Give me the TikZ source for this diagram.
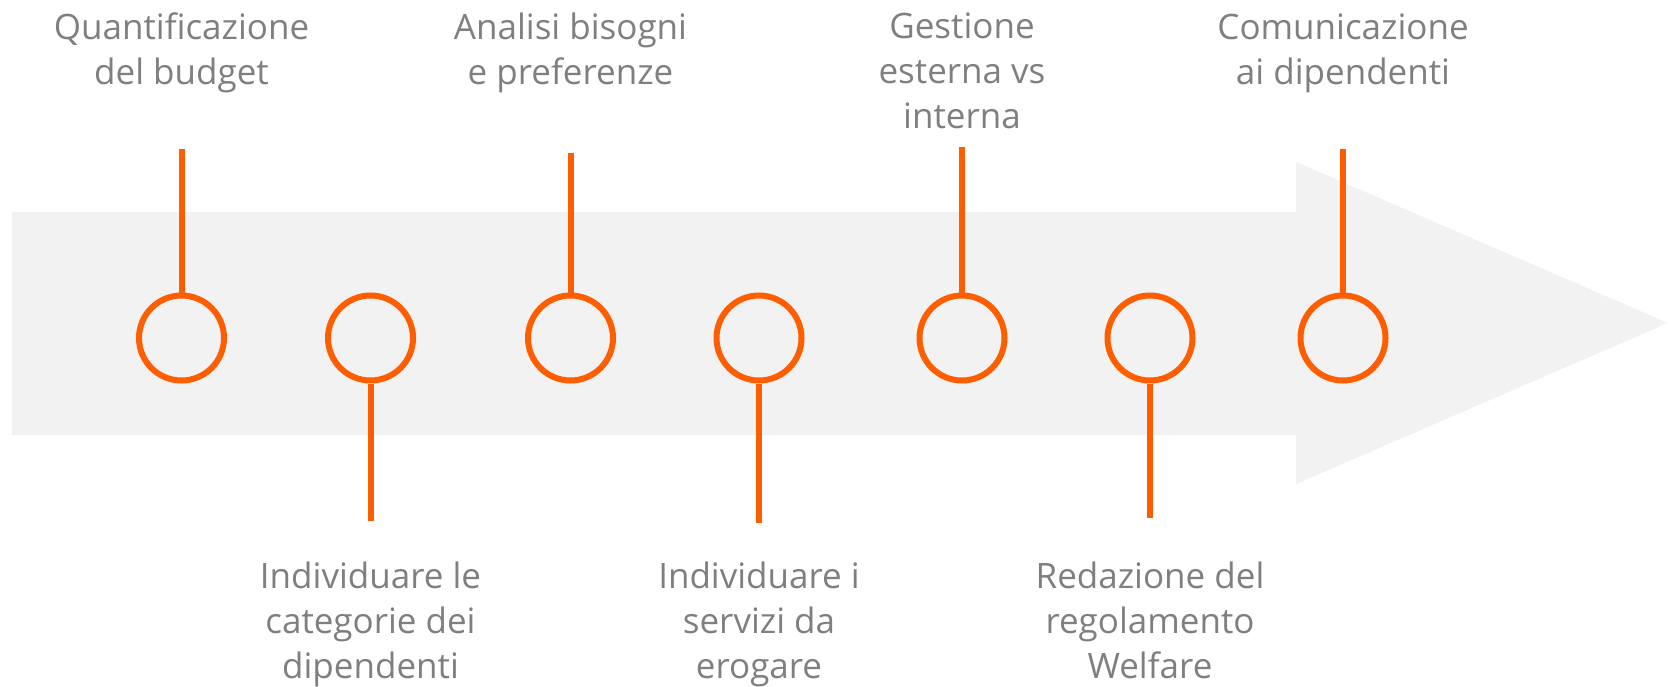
\documentclass[tikz,border=0pt]{standalone}
\usepackage{fontspec}
\setmainfont{Open Sans}
\usepackage{xcolor}
\definecolor{tlorange}{HTML}{FF5E00}
\definecolor{tlgray}{HTML}{7F7F7F}
\definecolor{tlarrow}{HTML}{F2F2F2}
\tikzset{
  step circ/.style={circle, draw=tlorange, line width=6pt, minimum size=85pt, inner sep=0pt},
  stick/.style={draw=tlorange, line width=6pt},
  label txt/.style={text=tlgray, align=center, anchor=base, inner sep=0pt,
    font=\fontsize{35}{45}\selectfont}
}
\begin{document}
\begin{tikzpicture}[x=1pt,y=-1pt]
\useasboundingbox (0,0) rectangle (1669,687);
%big arrow
\fill[tlarrow] (12,212) -- (1296,212) -- (1296,162) -- (1668,323)
  -- (1296,484) -- (1296,435) -- (12,435) -- cycle;
%steps
\foreach \n/\x in {1/181.5,2/370.5,3/570.5,4/759,5/962,6/1150,7/1343}{
	\node[step circ] (c\n) at (\x,338) {};
}
%sticks up
\foreach \n/\y in {1/149,3/153,5/147,7/149}{
	\coordinate (t\n) at (c\n.north |- 0,\y);
	\draw[stick] (c\n.north) -- (t\n);
}
%sticks down
\foreach \n/\y in {2/521,4/522.5,6/518}{
	\coordinate (b\n) at (c\n.south |- 0,\y);
	\draw[stick] (c\n.south) -- (b\n);
}
%labels (base = last line)
\node[label txt] (l1) at (181.5,85) {Quantificazione\\del budget};
\node[label txt] (l3) at (570.5,85) {Analisi bisogni\\e preferenze};
\node[label txt] (l5) at (962,129) {Gestione\\esterna vs\\interna};
\node[label txt] (l7) at (1343,85) {Comunicazione\\ai dipendenti};
\node[label txt] (l2) at (370.5,678) {Individuare le\\categorie dei\\dipendenti};
\node[label txt] (l4) at (759,678) {Individuare i\\servizi da\\erogare};
\node[label txt] (l6) at (1150,678) {Redazione del\\regolamento\\Welfare};
\end{tikzpicture}
\end{document}
